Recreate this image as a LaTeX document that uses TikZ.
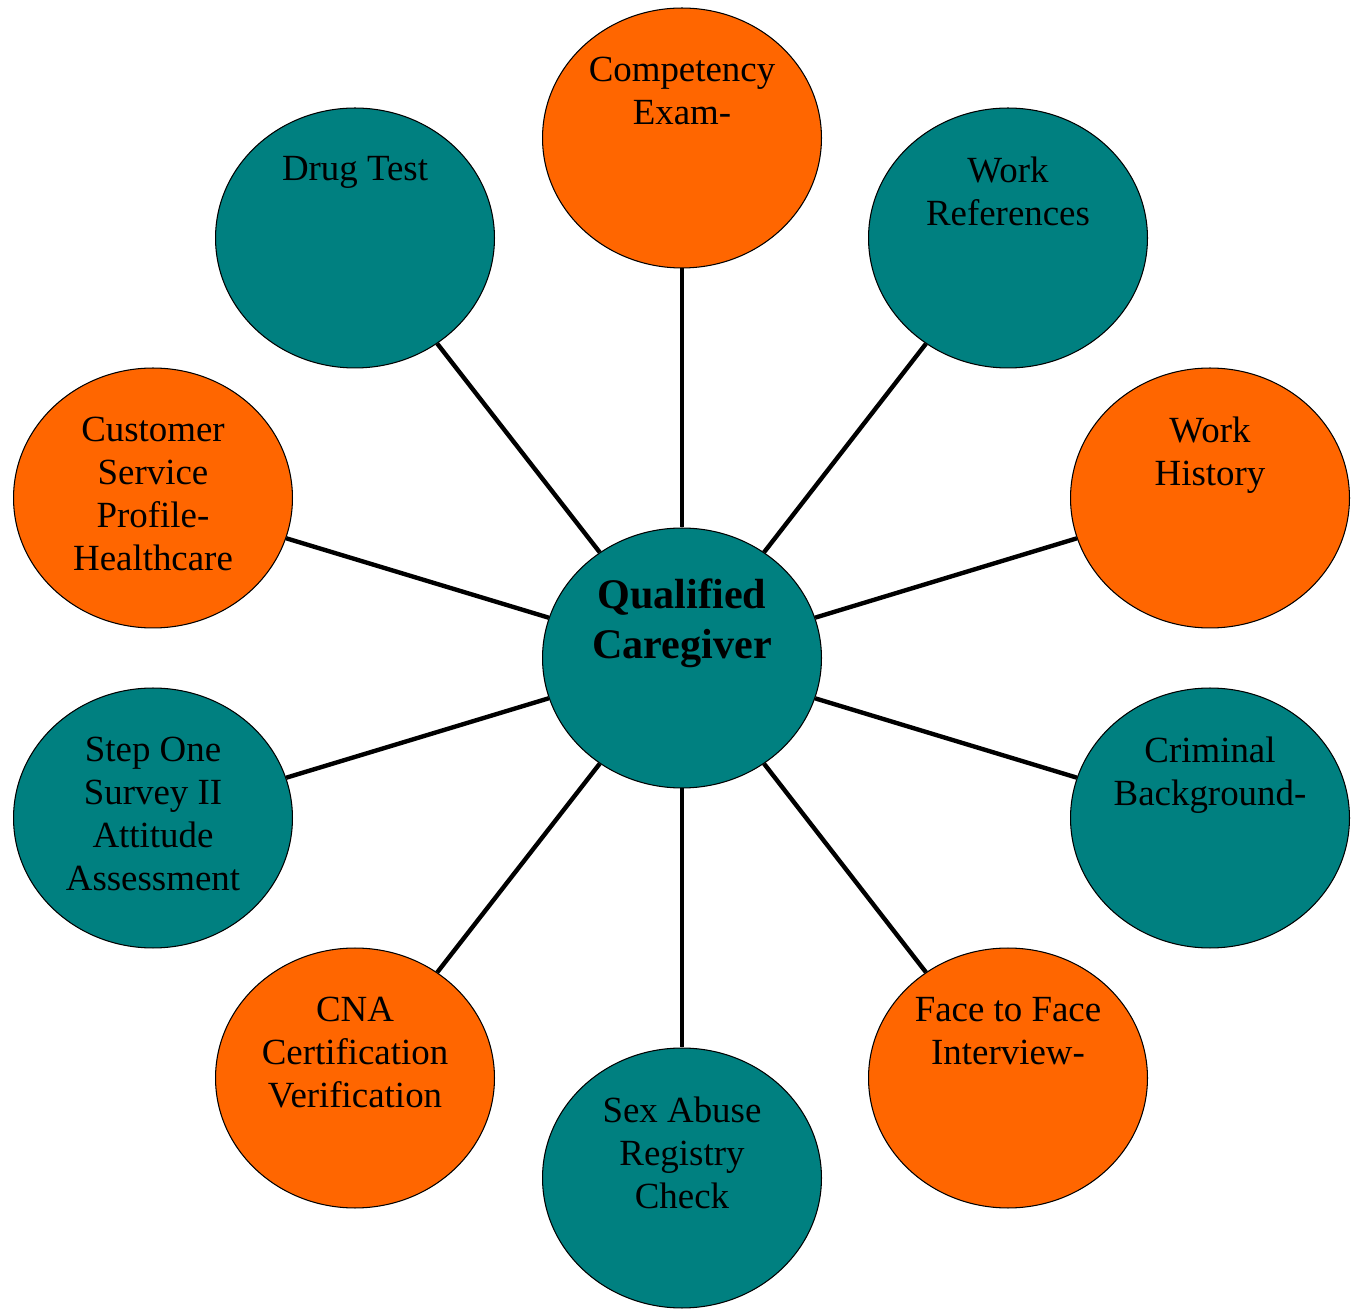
\documentclass[tikz,border=0pt]{standalone}
\usepackage{fontspec}
\setmainfont{Liberation Serif}
\usepackage{tikz}
\usetikzlibrary{shapes.geometric}
\definecolor{cgorange}{HTML}{FF6600}
\definecolor{cgteal}{HTML}{008080}
\tikzstyle{bubble}=[draw=black, line width=0.6pt, shape=ellipse, inner sep=0pt,
                    minimum width=5.58cm, minimum height=5.2cm]
\tikzset{
txt/.style = {anchor=north, align=center, inner sep=0pt, yshift=#1,
              font=\fontsize{21}{24.5}\selectfont},
txt/.default = -0.98cm,% drop of the first line below the top of the bubble
spoke/.style = {line width=2.5pt, draw=black}
}

\begin{document}
\begin{tikzpicture}[x=0.02cm, y=-0.02cm]
        \useasboundingbox (0,0) rectangle (1353,1310);

        \node[bubble, fill=cgteal, label={[txt=-1.02cm, font=\fontsize{24}{28.5}\selectfont\bfseries]north:{Qualified\\Caregiver}}] (care) at (682,658) {};

        \node[bubble, fill=cgorange, label={[txt]north:{Competency\\Exam-}}] (exam) at (682,138) {};
        \node[bubble, fill=cgteal, label={[txt]north:{Work\\References}}] (refs) at (1008,238) {};
        \node[bubble, fill=cgorange, label={[txt]north:{Work\\History}}] (hist) at (1210,498) {};
        \node[bubble, fill=cgteal, label={[txt]north:{Criminal\\Background-}}] (crim) at (1210,818) {};
        \node[bubble, fill=cgorange, label={[txt]north:{Face to Face\\Interview-}}] (face) at (1008,1078) {};
        \node[bubble, fill=cgteal, label={[txt]north:{Sex Abuse\\Registry\\Check}}] (sex) at (682,1178) {};
        \node[bubble, fill=cgorange, label={[txt]north:{CNA\\Certification\\Verification}}] (cna) at (355,1078) {};
        \node[bubble, fill=cgteal, label={[txt]north:{Step One\\Survey II\\Attitude\\Assessment}}] (step) at (153,818) {};
        \node[bubble, fill=cgorange, label={[txt]north:{Customer\\Service\\Profile-\\Healthcare}}] (cust) at (153,498) {};
        \node[bubble, fill=cgteal, label={[txt]north:{Drug Test}}] (drug) at (355,238) {};

        \path
        (care) edge[spoke] (exam)
        (care) edge[spoke] (refs)
        (care) edge[spoke] (hist)
        (care) edge[spoke] (crim)
        (care) edge[spoke] (face)
        (care) edge[spoke] (sex)
        (care) edge[spoke] (cna)
        (care) edge[spoke] (step)
        (care) edge[spoke] (cust)
        (care) edge[spoke] (drug);
        \end{tikzpicture}
\end{document}
